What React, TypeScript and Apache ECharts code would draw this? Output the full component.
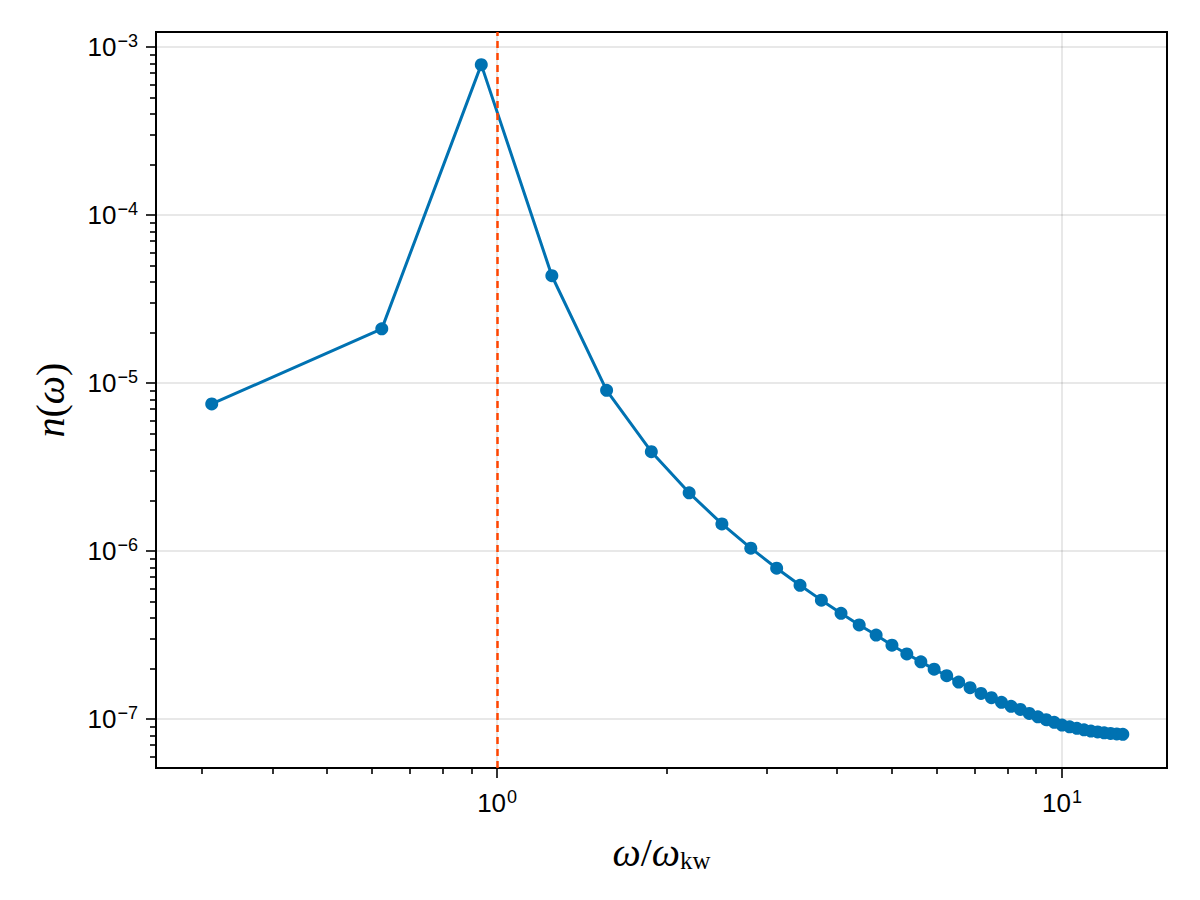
import { useEffect, useRef } from "react";
import * as echarts from "echarts";

// omega / omega_kw (x) and n(omega) (y)
const omegaRatio = [
  0.3125, 0.625, 0.9375, 1.25, 1.5625, 1.875, 2.1875, 2.5, 2.8125, 3.125,
  3.4375, 3.75, 4.0625, 4.375, 4.6875, 5, 5.3125, 5.625, 5.9375, 6.25,
  6.5625, 6.875, 7.1875, 7.5, 7.8125, 8.125, 8.4375, 8.75, 9.0625, 9.375,
  9.6875, 10, 10.3125, 10.625, 10.9375, 11.25, 11.5625, 11.875, 12.1875, 12.5,
  12.8125,
];
const nOmega = [
  7.5e-6, 2.1e-5, 7.85e-4, 4.35e-5, 9.05e-6, 3.9e-6, 2.22e-6, 1.45e-6, 1.04e-6, 7.9e-7,
  6.25e-7, 5.1e-7, 4.26e-7, 3.63e-7, 3.16e-7, 2.75e-7, 2.44e-7, 2.19e-7, 1.98e-7, 1.81e-7,
  1.66e-7, 1.535e-7, 1.42e-7, 1.34e-7, 1.257e-7, 1.19e-7, 1.14e-7, 1.08e-7, 1.03e-7, 9.9e-8,
  9.55e-8, 9.2e-8, 8.99e-8, 8.8e-8, 8.63e-8, 8.48e-8, 8.37e-8, 8.27e-8, 8.2e-8, 8.15e-8,
  8.11e-8,
];

const xMajorTicks = [1, 10];
const xMinorTicks = [0.3, 0.4, 0.5, 0.6, 0.7, 0.8, 0.9, 2, 3, 4, 5, 6, 7, 8, 9];
const yMajorTicks = [1e-7, 1e-6, 1e-5, 1e-4, 1e-3];
const yMinorTicks = [
  6e-8, 7e-8, 8e-8, 9e-8,
  2e-7, 3e-7, 4e-7, 5e-7, 6e-7, 7e-7, 8e-7, 9e-7,
  2e-6, 3e-6, 4e-6, 5e-6, 6e-6, 7e-6, 8e-6, 9e-6,
  2e-5, 3e-5, 4e-5, 5e-5, 6e-5, 7e-5, 8e-5, 9e-5,
  2e-4, 3e-4, 4e-4, 5e-4, 6e-4, 7e-4, 8e-4, 9e-4,
];
const xRange = [0.249, 15.34];
const yRange = [5.11e-8, 1.228e-3];
const markerX = 1;

const SANS = "'Liberation Sans', Arial, Helvetica, sans-serif";
const SERIF = "'Liberation Serif', 'DejaVu Serif', serif";

const powLabel = (v: number) => {
  const e = Math.round(Math.log10(v));
  return `{b|10}{s|${e < 0 ? "\u2212" : ""}${Math.abs(e)}}`;
};
const powRich = {
  b: { fontFamily: SANS, fontSize: 26, lineHeight: 30, color: "#000" },
  s: { fontFamily: SANS, fontSize: 18, lineHeight: 17, verticalAlign: "top", color: "#000", padding: [0, 0, 0, 1] },
};

export default function App() {
  const ref = useRef<HTMLDivElement>(null);
  useEffect(() => {
    if (!ref.current) return;
    const chart = echarts.init(ref.current, null, { renderer: "svg" });
    const data = omegaRatio.map((x, i) => [x, nOmega[i]]);
    const tickLine = { color: "#000", width: 1.6 };
    chart.setOption({
      animation: false,
      backgroundColor: "#fff",
      grid: {
        left: 156, right: 33, top: 32, bottom: 132,
        show: true, borderColor: "#000", borderWidth: 2, backgroundColor: "transparent",
        containLabel: false,
      },
      xAxis: [
        {
          type: "log", logBase: 10, min: xRange[0], max: xRange[1], position: "bottom",
          axisLine: { show: false },
          axisTick: { show: true, customValues: xMajorTicks, length: 10, inside: false, lineStyle: tickLine },
          axisLabel: {
            show: true, customValues: xMajorTicks, margin: 20, formatter: powLabel, rich: powRich,
            showMinLabel: true, showMaxLabel: true,
          },
          splitLine: { show: true, lineStyle: { color: "rgba(0,0,0,0.12)", width: 1.5 } },
          minorTick: { show: false },
        },
        {
          type: "log", logBase: 10, min: xRange[0], max: xRange[1], position: "bottom",
          axisLine: { show: false },
          axisTick: { show: true, customValues: xMinorTicks, length: 6, inside: false, lineStyle: tickLine },
          axisLabel: { show: false },
          splitLine: { show: false },
        },
      ],
      yAxis: [
        {
          type: "log", logBase: 10, min: yRange[0], max: yRange[1], position: "left",
          axisLine: { show: false },
          axisTick: { show: true, customValues: yMajorTicks, length: 10, inside: false, lineStyle: tickLine },
          axisLabel: {
            show: true, customValues: yMajorTicks, margin: 18, formatter: powLabel, rich: powRich,
            showMinLabel: true, showMaxLabel: true,
          },
          splitLine: { show: true, lineStyle: { color: "rgba(0,0,0,0.12)", width: 1.5 } },
        },
        {
          type: "log", logBase: 10, min: yRange[0], max: yRange[1], position: "left",
          axisLine: { show: false },
          axisTick: { show: true, customValues: yMinorTicks, length: 6, inside: false, lineStyle: tickLine },
          axisLabel: { show: false },
          splitLine: { show: false },
        },
      ],
      series: [
        {
          type: "line",
          data,
          xAxisIndex: 0,
          yAxisIndex: 0,
          symbol: "circle",
          symbolSize: 13,
          showSymbol: true,
          color: "#0072b2",
          itemStyle: { color: "#0072b2" },
          lineStyle: { color: "#0072b2", width: 3 },
          z: 2,
        },
        {
          type: "line",
          data: [],
          xAxisIndex: 0,
          yAxisIndex: 0,
          z: 4,
          markLine: {
            silent: true,
            symbol: ["none", "none"],
            label: { show: false },
            lineStyle: { color: "#ff4500", width: 2.5, type: [7, 5] },
            data: [{ xAxis: markerX }],
          },
        },
      ],
      graphic: [
        {
          type: "text",
          x: 661.5,
          y: 852,
          style: {
            text: "{i|ω}{r|/}{i|ω}{sub|kw}",
            align: "center",
            verticalAlign: "middle",
            rich: {
              i: { fontFamily: SERIF, fontStyle: "italic", fontSize: 40, lineHeight: 42, fill: "#000" },
              r: { fontFamily: SERIF, fontSize: 40, lineHeight: 42, fill: "#000" },
              sub: { fontFamily: SERIF, fontSize: 25, lineHeight: 22, verticalAlign: "bottom", fill: "#000" },
            },
          },
        },
        {
          type: "text",
          x: 50,
          y: 400,
          rotation: Math.PI / 2,
          style: {
            text: "{i|n}{r|(}{i|ω}{r|)}",
            align: "center",
            verticalAlign: "middle",
            rich: {
              i: { fontFamily: SERIF, fontStyle: "italic", fontSize: 40, lineHeight: 42, fill: "#000" },
              r: { fontFamily: SERIF, fontSize: 40, lineHeight: 42, fill: "#000" },
            },
          },
        },
      ],
    });
    return () => chart.dispose();
  }, []);
  return (
    <div
      ref={ref}
      style={{ position: "absolute", left: 0, top: 0, width: 1200, height: 900 }}
    />
  );
}
